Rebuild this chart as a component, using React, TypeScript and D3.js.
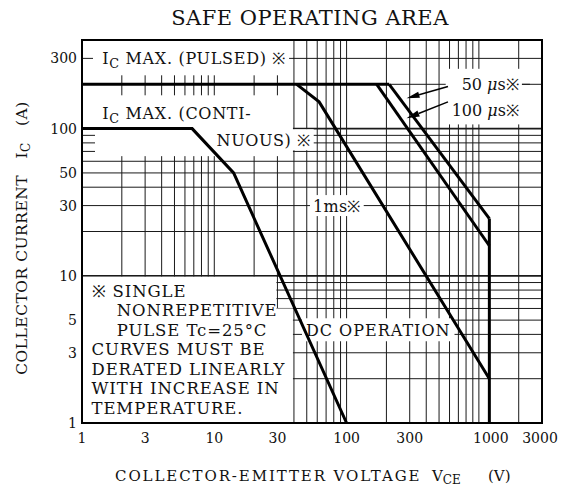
import React, { useEffect, useRef } from 'react'
import * as d3 from 'd3'

const W = 564
const H = 495

// [VCE (V), IC (A)] points
type Pt = [number, number]

const xTicks = [1, 3, 10, 30, 100, 300, 1000, 3000]
const yTicks = [1, 3, 5, 10, 30, 50, 100, 300]

const icMaxPulsed: Pt[] = [[1, 200], [210, 200]]
const icMaxContinuous: Pt[] = [[1, 100], [6.8, 100], [14, 50], [100, 1]]
const pulse1ms: Pt[] = [[42, 200], [62, 152], [1200, 2]]
const pulse100us: Pt[] = [[169, 200], [1200, 16]]
const pulse50us: Pt[] = [[210, 200], [1200, 24.5]]
const vceMax: Pt[] = [[1200, 1], [1200, 24.5]]

const noteLines = [
  '※ SINGLE',
  'NONREPETITIVE',
  'PULSE Tc=25°C',
  'CURVES MUST BE',
  'DERATED LINEARLY',
  'WITH INCREASE IN',
  'TEMPERATURE.',
]

interface Part {
  t: string
  sub?: boolean
  italic?: boolean
}

const FONT = '"DejaVu Serif", "Liberation Serif", serif'

export default function App() {
  const svgRef = useRef<SVGSVGElement>(null)

  useEffect(() => {
    if (!svgRef.current) return
    const svg = d3.select(svgRef.current)
    svg.selectAll('*').remove()

    const x = d3.scaleLog().domain([1, 3000]).range([82, 542])
    const y = d3.scaleLog().domain([1, 400]).range([423, 40])

    svg.append('rect').attr('width', W).attr('height', H).attr('fill', '#fff')

    // grid values (1..9 per decade)
    const xGrid: number[] = []
    ;[1, 10, 100, 1000].forEach(d => d3.range(1, 10).forEach(m => { if (m * d <= 3000) xGrid.push(m * d) }))
    const yGrid: number[] = []
    ;[1, 10, 100].forEach(d => d3.range(1, 10).forEach(m => { if (m * d <= 400) yGrid.push(m * d) }))

    const grid = svg.append('g').attr('stroke', '#1a1a1a').attr('fill', 'none')
    xGrid.forEach(v => {
      grid.append('line')
        .attr('x1', x(v)).attr('x2', x(v))
        .attr('y1', y(1)).attr('y2', y(400))
        .attr('stroke-width', 1)
    })
    yGrid.forEach(v => {
      grid.append('line')
        .attr('x1', x(1)).attr('x2', x(3000))
        .attr('y1', y(v)).attr('y2', y(v))
        .attr('stroke-width', v === 10 || v === 100 ? 1.8 : 1)
    })

    // blank paper areas (top-left and note box)
    svg.append('rect')
      .attr('x', x(1)).attr('y', y(400))
      .attr('width', x(40) - x(1) - 1).attr('height', y(65) - y(400))
      .attr('fill', '#fff')
    svg.append('path')
      .attr('fill', '#fff')
      .attr('d', `M${x(1)},${y(10) + 1}H${x(30) - 1}V${y(6)}H${x(40) - 1}V${y(1)}H${x(1)}Z`)

    // short ticks left on the blank paper
    const ticks = svg.append('g').attr('stroke', '#1a1a1a').attr('stroke-width', 1)
    ticks.append('line').attr('x1', x(1)).attr('x2', x(1) + 11).attr('y1', y(300)).attr('y2', y(300))
    ticks.append('line').attr('x1', x(36)).attr('x2', x(40)).attr('y1', y(300)).attr('y2', y(300))
    ;[70, 80, 90].forEach(v => {
      ticks.append('line').attr('x1', x(1)).attr('x2', x(1) + 13).attr('y1', y(v)).attr('y2', y(v))
    })
    xGrid.filter(v => v > 1 && v < 40).forEach(v => {
      ticks.append('line').attr('x1', x(v)).attr('x2', x(v)).attr('y1', y(200) - 9).attr('y2', y(200) + 11)
    })

    // boxed text helper
    const addText = (g: d3.Selection<SVGGElement, unknown, null, undefined>, px: number, py: number, parts: Part[], size: number, spacing: number) => {
      const t = g.append('text')
        .attr('x', px).attr('y', py)
        .attr('font-family', FONT)
        .attr('font-size', size)
        .attr('letter-spacing', spacing)
        .attr('dominant-baseline', 'central')
        .attr('fill', '#111')
        .style('white-space', 'pre')
      let shifted = false
      parts.forEach(p => {
        const ts = t.append('tspan').text(p.t)
        if (p.sub) {
          ts.attr('font-size', size * 0.8).attr('dy', size * 0.3)
          shifted = true
        } else if (shifted) {
          ts.attr('dy', -size * 0.3)
          shifted = false
        }
        if (p.italic) ts.attr('font-style', 'italic')
      })
      return t
    }
    const boxed = (px: number, py: number, parts: Part[], size: number, spacing = 0.5, padX = 3, padY = 1) => {
      const g = svg.append('g')
      const rect = g.append('rect').attr('fill', '#fff')
      const t = addText(g, px, py, parts, size, spacing)
      const b = (t.node() as SVGTextElement).getBBox()
      rect.attr('x', b.x - padX).attr('y', b.y - padY)
        .attr('width', b.width + padX * 2).attr('height', b.height + padY * 2)
    }

    boxed(x(1.42), y(300), [{ t: 'I' }, { t: 'C', sub: true }, { t: ' MAX. (PULSED) ※' }], 16, 0.7)
    boxed(x(1.42), y(127), [{ t: 'I' }, { t: 'C', sub: true }, { t: ' MAX. (CONTI-' }], 16, 0.7)
    boxed(x(10.4), y(84), [{ t: 'NUOUS) ※' }], 16, 0.6)
    boxed(x(55.7), y(30), [{ t: '1ms※' }], 16, 0.3)
    boxed(x(49.3), y(4.3), [{ t: 'DC OPERATION' }], 16, 1, 4, 2)

    // 50us / 100us labels share one white patch
    const us = svg.append('g')
    const usRect = us.append('rect').attr('fill', '#fff')
    const t50 = addText(us, x(741), y(200), [{ t: '50 ' }, { t: 'μ', italic: true }, { t: 's※' }], 16, 0)
    const t100 = addText(us, x(623), y(134), [{ t: '100 ' }, { t: 'μ', italic: true }, { t: 's※' }], 16, 0)
    const b50 = (t50.node() as SVGTextElement).getBBox()
    const b100 = (t100.node() as SVGTextElement).getBBox()
    const ux0 = Math.min(b50.x, b100.x) - 6
    const ux1 = Math.max(b50.x + b50.width, b100.x + b100.width) + 3
    const uy0 = b50.y - 6
    const uy1 = b100.y + b100.height + 5
    usRect.attr('x', ux0).attr('y', uy0).attr('width', ux1 - ux0).attr('height', uy1 - uy0)
    us.append('line')
      .attr('x1', ux1).attr('x2', ux1 + 8).attr('y1', y(200)).attr('y2', y(200))
      .attr('stroke', '#1a1a1a')

    // note lines
    const note = svg.append('text')
      .attr('font-family', FONT).attr('font-size', 16.5).attr('fill', '#111')
      .attr('letter-spacing', 0.9)
      .attr('dominant-baseline', 'central')
    noteLines.forEach((s, i) => {
      const indent = i === 1 || i === 2
      note.append('tspan')
        .attr('x', indent ? x(1.83) : x(1.18))
        .attr('y', y(10) + 15 + i * 19.5)
        .text(s)
    })

    // curves
    const line = d3.line<Pt>().x(d => x(d[0])).y(d => y(d[1]))
    ;[icMaxPulsed, icMaxContinuous, pulse1ms, pulse100us, pulse50us, vceMax].forEach(s => {
      svg.append('path')
        .datum(s)
        .attr('d', line)
        .attr('fill', 'none')
        .attr('stroke', '#000')
        .attr('stroke-width', 3)
        .attr('stroke-linejoin', 'miter')
    })

    // arrows to 50us / 100us curves
    const arrow = (from: Pt, to: Pt) => {
      const fx = x(from[0]), fy = y(from[1]), tx = x(to[0]), ty = y(to[1])
      const len = Math.hypot(tx - fx, ty - fy)
      const ux = (tx - fx) / len, uy = (ty - fy) / len
      const hl = 13, hw = 3.2
      const bx = tx - ux * hl, by = ty - uy * hl
      svg.append('line').attr('x1', fx).attr('y1', fy).attr('x2', bx).attr('y2', by)
        .attr('stroke', '#000').attr('stroke-width', 1.5)
      svg.append('path')
        .attr('d', `M${tx},${ty}L${bx - uy * hw},${by + ux * hw}L${bx + uy * hw},${by - ux * hw}Z`)
        .attr('fill', '#000')
    }
    arrow([584, 193], [284, 160.7])
    arrow([584, 152], [284, 117.5])

    // frame
    svg.append('rect')
      .attr('x', x(1)).attr('y', y(400))
      .attr('width', x(3000) - x(1)).attr('height', y(1) - y(400))
      .attr('fill', 'none').attr('stroke', '#000').attr('stroke-width', 2)

    // axis tick labels
    svg.append('g')
      .selectAll('text')
      .data(yTicks)
      .enter().append('text')
      .attr('x', x(1) - 5)
      .attr('y', d => y(d))
      .attr('text-anchor', 'end')
      .attr('dominant-baseline', 'central')
      .attr('font-family', FONT).attr('font-size', 14).attr('fill', '#111')
      .text(d => String(d))

    const xOffset = (d: number) => (d === 1000 ? 12 : d === 3000 ? -2 : 0)
    svg.append('g')
      .selectAll('text')
      .data(xTicks)
      .enter().append('text')
      .attr('x', d => x(d) + xOffset(d))
      .attr('y', y(1) + 15)
      .attr('text-anchor', 'middle')
      .attr('dominant-baseline', 'central')
      .attr('font-family', FONT).attr('font-size', 14).attr('fill', '#111')
      .text(d => String(d))

    // title
    svg.append('text')
      .attr('x', 310).attr('y', 18)
      .attr('text-anchor', 'middle')
      .attr('dominant-baseline', 'central')
      .attr('font-family', FONT).attr('font-size', 21).attr('fill', '#111')
      .attr('letter-spacing', 0.5)
      .text('SAFE OPERATING AREA')

    // axis titles
    const xt = svg.append('text')
      .attr('y', 476)
      .attr('dominant-baseline', 'central')
      .attr('font-family', FONT).attr('font-size', 15).attr('fill', '#111')
    xt.append('tspan').attr('x', 115).attr('letter-spacing', 1.9).text('COLLECTOR-EMITTER VOLTAGE')
    xt.append('tspan').attr('x', 432).text('V')
    xt.append('tspan').text('CE').attr('font-size', 12).attr('dy', 4)
    xt.append('tspan').attr('x', 488).text('(V)').attr('dy', -4)

    const yt = svg.append('text')
      .attr('transform', `translate(22,${238}) rotate(-90)`)
      .attr('text-anchor', 'middle')
      .attr('dominant-baseline', 'central')
      .attr('font-family', FONT).attr('font-size', 15.5).attr('fill', '#111')
      .attr('letter-spacing', 0.5)
      .style('white-space', 'pre')
    yt.append('tspan').text('COLLECTOR CURRENT   I')
    yt.append('tspan').text('C').attr('font-size', 12).attr('dy', 4)
    yt.append('tspan').text('   (A)').attr('dy', -4)
  }, [])

  return (
    <svg
      ref={svgRef}
      width={W}
      height={H}
      style={{ position: 'absolute', left: 0, top: 0, display: 'block' }}
    />
  )
}
